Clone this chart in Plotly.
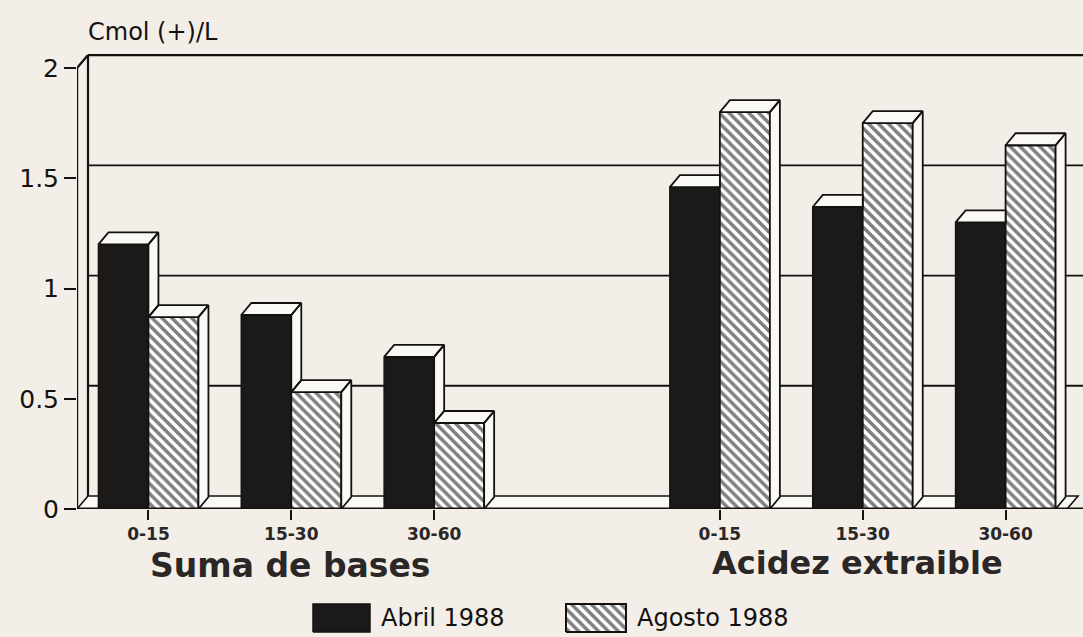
import plotly.graph_objects as go

# ---- data ----
depths = ["0-15", "15-30", "30-60"]
group_titles = ["Suma de bases", "Acidez extraible"]
series_names = ["Abril 1988", "Agosto 1988"]
abril_suma = [1.20, 0.88, 0.69]
agosto_suma = [0.87, 0.53, 0.39]
abril_acidez = [1.46, 1.37, 1.30]
agosto_acidez = [1.80, 1.75, 1.65]
y_ticks = [0, 0.5, 1, 1.5, 2]
y_tick_labels = ["0", "0.5", "1", "1.5", "2"]
y_title = "Cmol (+)/L"

# ---- geometry of the plotting box (pixels) ----
W, H = 1083, 637
PL, PR, PT, PB = 77, 1083, 35, 509
X0 = -0.5
PX_PER_X = 142.86
X1 = X0 + (PR - PL) / PX_PER_X
Y_MAX = 2.15
PX_PER_Y = (PB - PT) / Y_MAX

positions = [0, 1, 2, 4, 5, 6]          # empty slot between the two groups
tick_text = depths + depths
abril = abril_suma + abril_acidez
agosto = agosto_suma + agosto_acidez

BAR_W = 0.35
bdx, bdy = 10 / PX_PER_X, 12 / PX_PER_Y     # bar depth
wdx, wdy = 11 / PX_PER_X, 13 / PX_PER_Y     # wall depth
FLOOR_END = 6.43

INK = "#141211"
BG = "#f3eee7"
FACE = "#fbf9f5"
HATCH = dict(shape="\\", fgcolor="#000000", bgcolor="#ffffff", size=7, solidity=0.5)

fig = go.Figure()

# front faces
fig.add_trace(go.Bar(
    x=positions, y=abril, width=BAR_W, offset=-BAR_W, name=series_names[0],
    marker=dict(color="#1c1a19", line=dict(color=INK, width=1.5)),
    showlegend=False, hoverinfo="skip"))
fig.add_trace(go.Bar(
    x=positions, y=agosto, width=BAR_W, offset=0, name=series_names[1],
    marker=dict(color="#ffffff", pattern=HATCH, line=dict(color=INK, width=1.8)),
    showlegend=False, hoverinfo="skip"))

# top and side faces, clipped where the neighbouring bar hides them
fx, fy = [], []


def poly(pts):
    for px, py in pts + [pts[0]]:
        fx.append(px)
        fy.append(py)
    fx.append(None)
    fy.append(None)


for c, a, g in zip(positions, abril, agosto):
    left = c - BAR_W
    right = c + BAR_W
    # Abril top face
    if a >= g:
        poly([(left, a), (c, a), (c + bdx, a + bdy), (left + bdx, a + bdy)])
        # visible part of Abril side face above the Agosto bar
        poly([(c, g), (c + bdx, g + bdy), (c + bdx, a + bdy), (c, a)])
    else:
        poly([(left, a), (c, a), (c, a + bdy), (left + bdx, a + bdy)])
    # Agosto top and side faces
    poly([(c, g), (right, g), (right + bdx, g + bdy), (c + bdx, g + bdy)])
    poly([(right, 0), (right + bdx, bdy), (right + bdx, g + bdy), (right, g)])

fig.add_trace(go.Scatter(
    x=fx, y=fy, mode="lines", fill="toself", fillcolor=FACE,
    line=dict(color=INK, width=1.8), showlegend=False, hoverinfo="skip"))

# ---- walls and floor ----
shapes = []
# floor slab
shapes.append(dict(type="path", xref="x", yref="y", layer="below",
                   path=f"M {X0},0 L {FLOOR_END},0 L {FLOOR_END + wdx},{wdy} L {X0 + wdx},{wdy} Z",
                   fillcolor=FACE, line=dict(color=INK, width=1.6)))
# back-wall grid lines
for v in y_ticks[1:]:
    shapes.append(dict(type="line", xref="x", yref="y", layer="below",
                       x0=X0 + wdx, x1=X1, y0=v + wdy, y1=v + wdy,
                       line=dict(color=INK, width=2.2 if v == 2 else 1.8)))
# left wall
shapes.append(dict(type="line", xref="x", yref="y", layer="below",
                   x0=X0 + wdx, x1=X0 + wdx, y0=wdy, y1=2 + wdy,
                   line=dict(color=INK, width=2.2)))
shapes.append(dict(type="line", xref="x", yref="y", layer="below",
                   x0=X0, x1=X0 + wdx, y0=2, y1=2 + wdy,
                   line=dict(color=INK, width=2.2)))
# front axes
shapes.append(dict(type="line", xref="x", yref="y", layer="above",
                   x0=X0, x1=X0, y0=0, y1=2, line=dict(color=INK, width=2.4)))
shapes.append(dict(type="line", xref="x", yref="y", layer="above",
                   x0=X0, x1=X1, y0=0, y1=0, line=dict(color=INK, width=2.8)))

# ---- legend (custom swatches on a strip of its own) ----
LEG_Y0, LEG_Y1 = 5, 33
sw_abril = (313, 370)
sw_agosto = (566, 626)
fig.add_trace(go.Scatter(
    x=[sw_abril[0], sw_abril[1], sw_abril[1], sw_abril[0], sw_abril[0]],
    y=[LEG_Y0, LEG_Y0, LEG_Y1, LEG_Y1, LEG_Y0],
    mode="lines", fill="toself", fillcolor="#1c1a19",
    line=dict(color=INK, width=1.5), xaxis="x2", yaxis="y2",
    showlegend=False, hoverinfo="skip"))
fig.add_trace(go.Scatter(
    x=[sw_agosto[0], sw_agosto[1], sw_agosto[1], sw_agosto[0], sw_agosto[0]],
    y=[LEG_Y0, LEG_Y0, LEG_Y1, LEG_Y1, LEG_Y0],
    mode="lines", fill="toself", fillcolor="#ffffff", fillpattern=HATCH,
    line=dict(color=INK, width=2), xaxis="x2", yaxis="y2",
    showlegend=False, hoverinfo="skip"))

annotations = [
    dict(text=y_title, x=86 / W, y=1 - 32 / H, xref="paper", yref="paper",
         xanchor="left", yanchor="middle", showarrow=False,
         font=dict(family="DejaVu Sans", size=24, color=INK)),
    dict(text=f"<b>{group_titles[0]}</b>", x=290 / W, y=1 - 565 / H,
         xref="paper", yref="paper", xanchor="center", yanchor="middle",
         showarrow=False, font=dict(family="DejaVu Sans", size=33, color="#2a2726")),
    dict(text=f"<b>{group_titles[1]}</b>", x=857 / W, y=1 - 563 / H,
         xref="paper", yref="paper", xanchor="center", yanchor="middle",
         showarrow=False, font=dict(family="DejaVu Sans", size=32, color="#2a2726")),
    dict(text=series_names[0], x=sw_abril[1] + 9, y=(LEG_Y0 + LEG_Y1) / 2,
         xref="x2", yref="y2", xanchor="left", yanchor="middle", showarrow=False,
         font=dict(family="DejaVu Sans", size=24, color=INK)),
    dict(text=series_names[1], x=sw_agosto[1] + 9, y=(LEG_Y0 + LEG_Y1) / 2,
         xref="x2", yref="y2", xanchor="left", yanchor="middle", showarrow=False,
         font=dict(family="DejaVu Sans", size=24, color=INK)),
]

fig.update_layout(
    width=W, height=H,
    margin=dict(l=0, r=0, t=0, b=0),
    paper_bgcolor=BG, plot_bgcolor="rgba(0,0,0,0)",
    barmode="overlay",
    shapes=shapes, annotations=annotations,
    xaxis=dict(domain=[PL / W, PR / W], range=[X0, X1], showgrid=False,
               zeroline=False, showline=False, ticks="outside", ticklen=10,
               tickwidth=2, tickcolor=INK, tickvals=positions,
               ticktext=[f"<b>{t}</b>" for t in tick_text],
               tickfont=dict(family="DejaVu Sans", size=17, color="#2a2726"),
               automargin=False, fixedrange=True),
    yaxis=dict(domain=[1 - PB / H, 1 - PT / H], range=[0, Y_MAX], showgrid=False,
               zeroline=False, showline=False, ticks="outside", ticklen=12,
               tickwidth=2, tickcolor=INK, tickvals=y_ticks, ticktext=y_tick_labels,
               tickfont=dict(family="DejaVu Sans", size=25, color=INK),
               automargin=False, fixedrange=True),
    xaxis2=dict(domain=[0, 1], range=[0, W], visible=False, anchor="y2",
                fixedrange=True),
    yaxis2=dict(domain=[0, 40 / H], range=[0, 40], visible=False, anchor="x2",
                fixedrange=True),
)

fig.write_html("out.html")
